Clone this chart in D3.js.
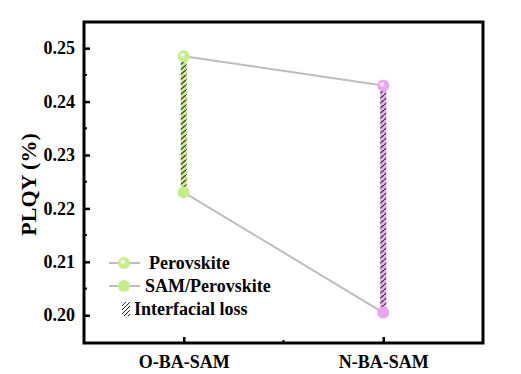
<!DOCTYPE html>
<html><head><meta charset="utf-8">
<script src="https://cdn.jsdelivr.net/npm/d3@7/dist/d3.min.js"></script>
<style>body{margin:0;background:#fff}svg{display:block}
svg text{font-family:"Liberation Serif","DejaVu Serif",serif;font-weight:bold;fill:#000}</style>
</head><body>
<svg id="c" width="521" height="374"></svg>
<script>
const categories = ["O-BA-SAM", "N-BA-SAM"];
const perovskite = [0.2485, 0.2430];
const samPerovskite = [0.2230, 0.2005];
const yTicks = [0.20, 0.21, 0.22, 0.23, 0.24, 0.25];
const barColors = ["#c6ec8c", "#eaa6f2"];
const legendLabels = ["Perovskite", "SAM/Perovskite", "Interfacial loss"];

const svg = d3.select("#c");
const L = 84, R = 483, T = 22, B = 343;

const x = d3.scalePoint().domain(categories).range([L, R]).padding(0.5);
const xMid = (x(categories[0]) + x(categories[1])) / 2;
const y = d3.scaleLinear().domain([0.1948, 0.2549]).range([B, T]);

const defs = svg.append("defs");
barColors.forEach((c, i) => {
  const p = defs.append("pattern").attr("id", "hatch" + i).attr("patternUnits", "userSpaceOnUse")
    .attr("width", 6).attr("height", 5);
  p.append("rect").attr("width", 6).attr("height", 5).attr("fill", c);
  p.append("path").attr("d", "M0,5 L6,0").attr("stroke", "#333").attr("stroke-width", 1.2);
  const g = defs.append("radialGradient").attr("id", "grad" + i).attr("cx", "40%").attr("cy", "40%").attr("r", "60%");
  g.append("stop").attr("offset", "0%").attr("stop-color", "#ffffff");
  g.append("stop").attr("offset", "45%").attr("stop-color", c);
  g.append("stop").attr("offset", "100%").attr("stop-color", c);
});
const lp = defs.append("pattern").attr("id", "hatchL").attr("patternUnits", "userSpaceOnUse").attr("width", 4).attr("height", 4);
lp.append("path").attr("d", "M0,4 L4,0").attr("stroke", "#222").attr("stroke-width", 1);

const line = d3.line().x(d => x(d[0])).y(d => y(d[1]));
[perovskite, samPerovskite].forEach(s => {
  svg.append("path").attr("d", line(categories.map((c, i) => [c, s[i]])))
    .attr("fill", "none").attr("stroke", "#bdbdbd").attr("stroke-width", 2);
});

categories.forEach((c, i) => {
  svg.append("rect").attr("x", x(c) - 3).attr("width", 6)
    .attr("y", y(perovskite[i])).attr("height", y(samPerovskite[i]) - y(perovskite[i]))
    .attr("fill", "url(#hatch" + i + ")");
  svg.append("circle").attr("cx", x(c)).attr("cy", y(perovskite[i])).attr("r", 6)
    .attr("fill", "url(#grad" + i + ")");
  svg.append("circle").attr("cx", x(c)).attr("cy", y(samPerovskite[i])).attr("r", 6)
    .attr("fill", barColors[i]);
});

const yAxis = d3.axisLeft(y).tickValues(yTicks).tickFormat(d3.format(".2f")).tickSize(-6).tickPadding(9);
const gy = svg.append("g").attr("transform", `translate(${L},0)`).call(yAxis);
gy.select(".domain").remove();
gy.selectAll(".tick line").attr("stroke", "#000").attr("stroke-width", 2.5);
gy.selectAll("text").attr("font-family", null).attr("font-size", 18);
const minorY = d3.range(0, 6).map(i => yTicks[0] + 0.005 + i * 0.01).filter(v => y(v) > T + 2);
svg.selectAll(".my").data(minorY).join("line").attr("x1", L).attr("x2", L + 3)
  .attr("y1", d => y(d)).attr("y2", d => y(d)).attr("stroke", "#000").attr("stroke-width", 2);

const xAxis = d3.axisBottom(x).tickSize(-6).tickPadding(12);
const gx = svg.append("g").attr("transform", `translate(0,${B})`).call(xAxis);
gx.select(".domain").remove();
gx.selectAll(".tick line").attr("stroke", "#000").attr("stroke-width", 2.5);
gx.selectAll("text").attr("font-family", null).attr("font-size", 18);
svg.append("line").attr("x1", xMid).attr("x2", xMid).attr("y1", B).attr("y2", B - 3).attr("stroke", "#000").attr("stroke-width", 2);

svg.append("rect").attr("x", L).attr("y", T).attr("width", R - L).attr("height", B - T)
  .attr("fill", "none").attr("stroke", "#000").attr("stroke-width", 3);

svg.append("text").attr("transform", `translate(36,${(T + B) / 2 + 2}) rotate(-90)`)
  .attr("text-anchor", "middle").attr("font-size", 22).text("PLQY (%)");

const lg = svg.append("g");
const rowsY = [263, 286, 309];
[0, 1].forEach(i => {
  lg.append("line").attr("x1", 109).attr("x2", 140).attr("y1", rowsY[i]).attr("y2", rowsY[i])
    .attr("stroke", "#bdbdbd").attr("stroke-width", 2);
  lg.append("circle").attr("cx", 124).attr("cy", rowsY[i]).attr("r", 6)
    .attr("fill", i === 0 ? "url(#grad0)" : barColors[0]);
});
lg.append("rect").attr("x", 122).attr("y", rowsY[2] - 7).attr("width", 8).attr("height", 14).attr("fill", "url(#hatchL)");
lg.selectAll("text.l").data(legendLabels).join("text")
  .attr("x", (d, i) => i === 0 ? 149 : (i === 1 ? 145 : 134)).attr("y", (d, i) => rowsY[i] + 6)
  .attr("font-size", 18).text(d => d);
</script>
</body></html>
